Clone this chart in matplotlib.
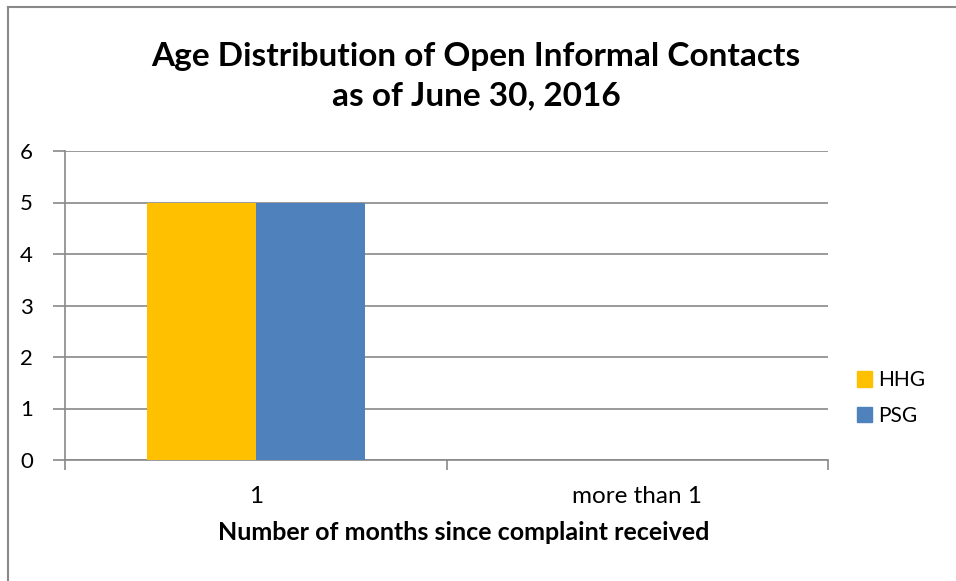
import numpy as np
import matplotlib
matplotlib.use('Agg')
from matplotlib import pyplot as plt
from matplotlib.lines import Line2D
from matplotlib.patches import Patch

categories = ['1', 'more than 1']
hhg_values = [5, 0]
psg_values = [5, 0]
series_names = ['HHG', 'PSG']
y_ticks = [0, 1, 2, 3, 4, 5, 6]

plt.rcParams['font.family'] = ['Lato', 'DejaVu Sans']

W, H = 956, 581
fig = plt.figure(figsize=(W / 100, H / 100), dpi=100)
ax = fig.add_axes([65 / W, 1 - 460 / H, (828 - 65) / W, (460 - 151) / H])

grid_col = '#898989'
x = np.arange(len(categories))
bar_w = 0.286
ax.bar(x - bar_w / 2, hhg_values, bar_w, color='#FFC000', zorder=3)
ax.bar(x + bar_w / 2, psg_values, bar_w, color='#4F81BD', zorder=3)

ax.set_xlim(-0.5, len(categories) - 0.5)
ax.set_ylim(0, 6)
ax.set_yticks(y_ticks)
ax.set_yticklabels([str(v) for v in y_ticks], fontsize=16)
ax.yaxis.grid(True, color=grid_col, linewidth=1.2, zorder=0)
ax.tick_params(axis='y', length=9, width=1.2, color=grid_col, pad=14)

# category labels sit between boundary ticks
ax.set_xticks([-0.5, 0.5, 1.5])
ax.set_xticklabels([])
ax.set_xticks(x, minor=True)
ax.set_xticklabels(categories, minor=True, fontsize=17.5)
ax.tick_params(axis='x', which='major', length=7, width=1.2, color=grid_col, direction='out')
ax.tick_params(axis='x', which='minor', length=0, pad=19)
ax.set_xlabel('Number of months since complaint received', fontsize=18, fontweight='bold', va='center')
ax.xaxis.set_label_coords((464 - 65) / 763, (460 - 532) / 309)

for side in ['top', 'right']:
    ax.spines[side].set_visible(False)
for side in ['left', 'bottom']:
    ax.spines[side].set_color(grid_col)
    ax.spines[side].set_linewidth(1.2)

fig.text(476 / W, 1 - 76 / H, 'Age Distribution of Open Informal Contacts\nas of June 30, 2016',
         ha='center', va='center', fontsize=24, fontweight='bold', linespacing=1.45)

handles = [Patch(color='#FFC000'), Patch(color='#4F81BD')]
fig.legend(handles, series_names, loc='center left', bbox_to_anchor=(838 / W, 1 - 398 / H),
           frameon=False, fontsize=15, handlelength=0.75, handleheight=0.75,
           handletextpad=0.3, labelspacing=0.75)

# chart area border (top and left visible)
fig.add_artist(Line2D([8 / W, 8 / W], [0, 1 - 7 / H], transform=fig.transFigure, color=grid_col, linewidth=1.5))
fig.add_artist(Line2D([8 / W, 1], [1 - 7 / H, 1 - 7 / H], transform=fig.transFigure, color=grid_col, linewidth=1.5))

fig.savefig('out.png', dpi=100)
